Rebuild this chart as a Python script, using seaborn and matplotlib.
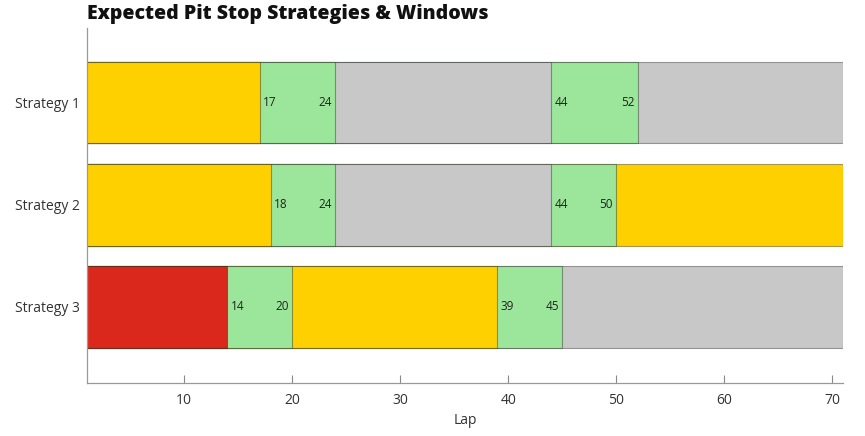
import pandas as pd
import matplotlib
matplotlib.use("Agg")
import matplotlib.pyplot as plt
import seaborn as sns

strategies = ["Strategy 1", "Strategy 2", "Strategy 3"]
# lap at which each stint / window ends
stint_ends = {
    "Strategy 1": [17, 24, 44, 52, 71],
    "Strategy 2": [18, 24, 44, 50, 71],
    "Strategy 3": [14, 20, 39, 45, 71],
}
# segment types: medium, window, hard, soft
stint_types = {
    "Strategy 1": ["medium", "window", "hard", "window", "hard"],
    "Strategy 2": ["medium", "window", "hard", "window", "medium"],
    "Strategy 3": ["soft", "window", "medium", "window", "hard"],
}
race_start = 1
race_end = 71
x_ticks = [10, 20, 30, 40, 50, 60, 70]

colors = {"soft": "#DA291C", "medium": "#FFD000", "hard": "#C8C8C8", "window": "#9CE69C"}

sns.set_theme(style="white")
plt.rcParams["font.family"] = ["Open Sans", "DejaVu Sans"]

fig = plt.figure(figsize=(8.65, 4.36), dpi=100)
ax = fig.add_axes([0.1006, 0.1216, 0.8740, 0.8142])

# draw from the longest end backwards so each bar covers the earlier part of the previous one
n_seg = len(stint_ends[strategies[0]])
for j in reversed(range(n_seg)):
    df = pd.DataFrame({"strategy": strategies,
                       "end": [stint_ends[s][j] for s in strategies]})
    before = len(ax.patches)
    sns.barplot(data=df, x="end", y="strategy", order=strategies, orient="h",
                width=0.8, ax=ax, edgecolor=(0, 0, 0, 0.35), linewidth=0.8)
    for patch, s in zip(ax.patches[before:], strategies):
        patch.set_facecolor(colors[stint_types[s][j]])

# window labels
for i, s in enumerate(strategies):
    ends = stint_ends[s]
    for j, t in enumerate(stint_types[s]):
        if t != "window":
            continue
        start, stop = ends[j - 1], ends[j]
        ax.text(start + 0.3, i, str(start), ha="left", va="center", fontsize=8.5, color="#222222")
        ax.text(stop - 0.3, i, str(stop), ha="right", va="center", fontsize=8.5, color="#222222")

ax.set_xlim(race_start, race_end)
ax.set_ylim(2.745, -0.73)
ax.set_xticks(x_ticks)
ax.set_xlabel("Lap", fontsize=10, color="#333333")
ax.set_ylabel("")
ax.tick_params(axis="x", bottom=True, direction="in", length=6, width=0.8, color="#888888",
               labelsize=10, labelcolor="#333333", pad=7)
ax.tick_params(axis="y", left=False, length=0, labelsize=10, labelcolor="#333333", pad=5)

for side in ["top", "right"]:
    ax.spines[side].set_visible(False)
for side in ["left", "bottom"]:
    ax.spines[side].set_color("#999999")
    ax.spines[side].set_linewidth(0.9)

fig.text(0.1006, 0.945, "Expected Pit Stop Strategies & Windows", ha="left", va="bottom",
         fontsize=14, fontweight="heavy", color="#111111")

fig.savefig("out.png", dpi=100)
